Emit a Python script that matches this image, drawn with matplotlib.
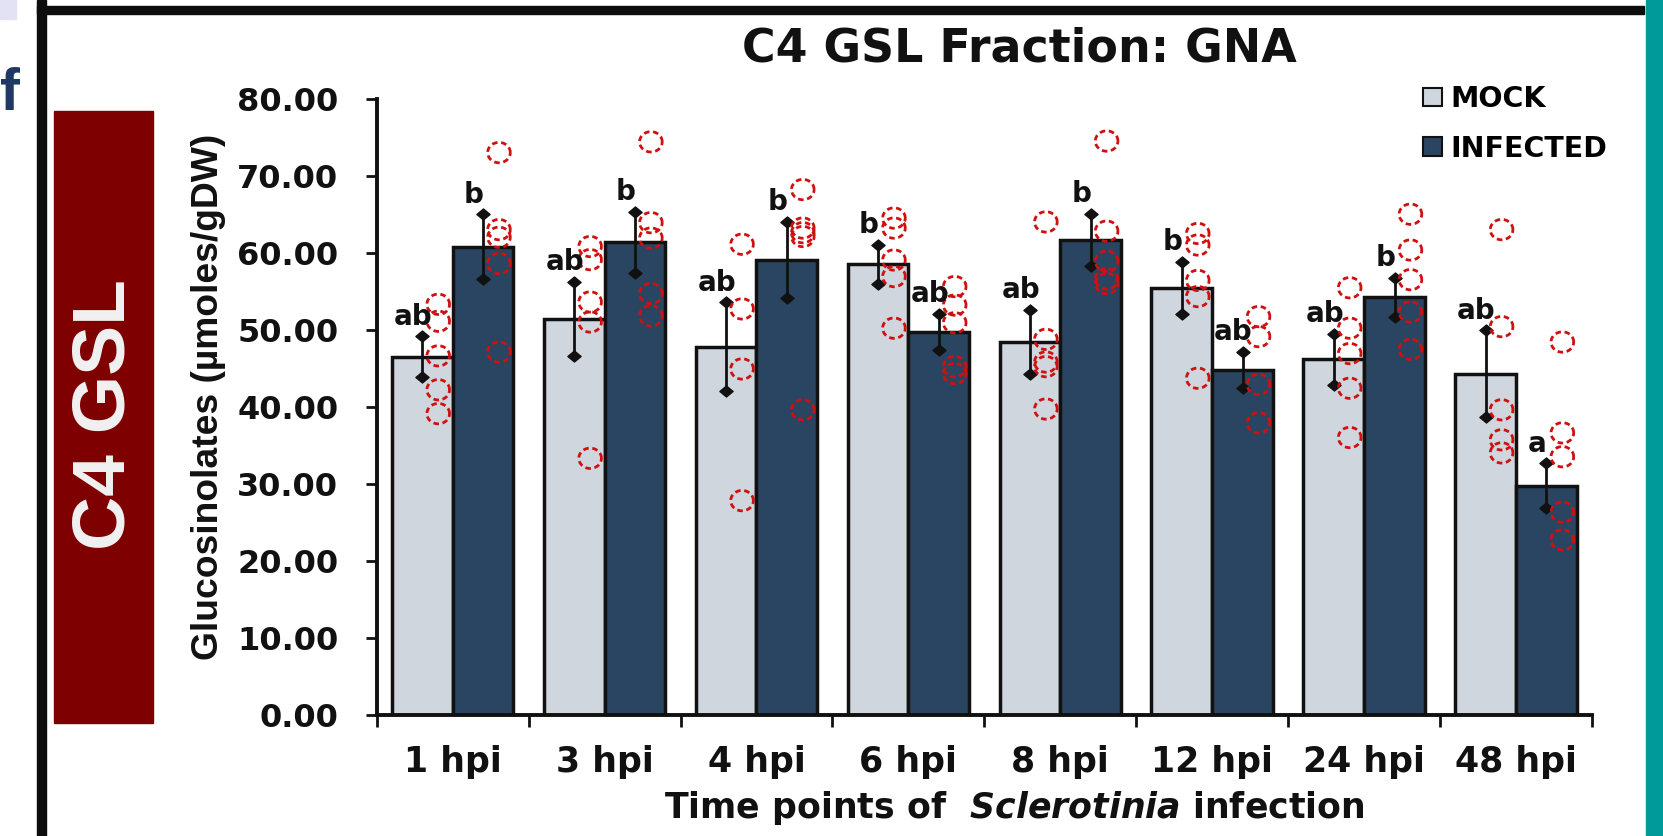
import numpy as np
import matplotlib
matplotlib.use("Agg")
import matplotlib.pyplot as plt
from matplotlib.path import Path
from matplotlib.patches import Patch, Rectangle

# ---------------- data ----------------
timepoints = ['1 hpi', '3 hpi', '4 hpi', '6 hpi', '8 hpi', '12 hpi', '24 hpi', '48 hpi']
mock_mean = [46.5, 51.4, 47.8, 58.5, 48.4, 55.45, 46.15, 44.3]
mock_sd = [2.65, 4.85, 5.75, 2.5, 4.2, 3.35, 3.35, 5.6]
inf_mean = [60.8, 61.35, 59.05, 49.7, 61.65, 44.8, 54.2, 29.75]
inf_sd = [4.2, 3.95, 4.95, 2.35, 3.4, 2.35, 2.55, 2.9]
mock_letters = ['ab', 'ab', 'ab', 'b', 'ab', 'b', 'ab', 'ab']
inf_letters = ['b', 'b', 'b', 'ab', 'b', 'ab', 'b', 'a']
mock_points = [
    [53.3, 51.1, 46.6, 42.2, 39.1],
    [60.8, 59.1, 53.6, 51.0, 33.3],
    [61.1, 52.7, 44.9, 27.8],
    [64.5, 63.2, 59.05, 56.9, 50.2],
    [64.0, 48.75, 45.8, 45.2, 39.7],
    [62.5, 61.0, 56.4, 54.3, 43.7],
    [55.45, 50.2, 46.9, 42.4, 36.0],
    [63.0, 50.4, 39.6, 35.7, 34.0],
]
inf_points = [
    [73.0, 63.0, 62.0, 58.6, 47.1],
    [74.4, 63.9, 61.9, 54.7, 51.8],
    [68.2, 63.2, 62.6, 62.1, 39.6],
    [55.6, 53.2, 50.9, 45.2, 44.3],
    [74.5, 62.8, 58.9, 56.6, 56.0],
    [51.7, 49.1, 42.9, 37.9],
    [65.0, 60.35, 56.5, 52.3, 47.45],
    [48.4, 36.6, 33.5, 26.3, 22.7],
]
yticks = [0, 10, 20, 30, 40, 50, 60, 70, 80]

# ---------------- style ----------------
MOCK_C = '#cfd6dd'
INF_C = '#2a4561'
EDGE = '#111111'
RED = '#d01010'
W, H = 1663, 836
plt.rcParams['font.family'] = ['DejaVu Sans']
plt.rcParams['mathtext.fontset'] = 'custom'
plt.rcParams['mathtext.it'] = 'DejaVu Sans:italic:bold'
plt.rcParams['mathtext.rm'] = 'DejaVu Sans:bold'

fig = plt.figure(figsize=(W / 100, H / 100), dpi=100)

def fx(px):
    return px / W

def fy(py):
    return 1 - py / H

# decorations of the page
fig.patches.append(Rectangle((0, fy(19)), fx(16), 19 / H, transform=fig.transFigure,
                             color='#e2e2f4', zorder=0))
fig.patches.append(Rectangle((fx(37), 0), fx(9), 1, transform=fig.transFigure,
                             color='#0d0d0d', zorder=0))
fig.patches.append(Rectangle((fx(37), fy(14)), fx(1644 - 37), 8 / H, transform=fig.transFigure,
                             color='#0d0d0d', zorder=0))
fig.patches.append(Rectangle((fx(1646), 0), fx(W - 1646), 1, transform=fig.transFigure,
                             color='#009a9a', zorder=0))
fig.patches.append(Rectangle((fx(54), fy(723)), fx(99), 612 / H, transform=fig.transFigure,
                             color='#7f0000', zorder=0))
fig.text(fx(0), fy(110), 'f', fontsize=43, fontweight='bold', color='#1f3864',
         family='Liberation Sans', ha='left', va='baseline')
fig.text(fx(105), fy(415), 'C4 GSL', rotation=90, ha='center', va='center',
         color='#f2f2f2', fontsize=54, fontweight='bold', family='Liberation Sans')

ax = fig.add_axes([fx(376.7), fy(714.7), fx(1592 - 376.7), (714.7 - 98.7) / H])

n = len(timepoints)
centers = np.arange(n) + 0.5
bw = 0.4
mock_x = centers - bw / 2
inf_x = centers + bw / 2

ax.bar(mock_x, mock_mean, width=bw, color=MOCK_C, edgecolor=EDGE, linewidth=2.5, zorder=2)
ax.bar(inf_x, inf_mean, width=bw, color=INF_C, edgecolor=EDGE, linewidth=2.5, zorder=2)

diamond = Path([(-1.2, 0), (0, 1), (1.2, 0), (0, -1), (-1.2, 0)],
               [Path.MOVETO, Path.LINETO, Path.LINETO, Path.LINETO, Path.CLOSEPOLY])
for xs, m, s in ((mock_x, mock_mean, mock_sd), (inf_x, inf_mean, inf_sd)):
    _, caps, _ = ax.errorbar(xs, m, yerr=s, fmt='none', ecolor=EDGE, elinewidth=2.0,
                             capsize=4, zorder=3)
    for c in caps:
        c.set_marker(diamond)
        c.set_markersize(9.5)
        c.set_markerfacecolor(EDGE)
        c.set_markeredgecolor(EDGE)

theta = np.linspace(0, 2 * np.pi, 73)
ellipse = Path(np.column_stack([1.11 * np.cos(theta), np.sin(theta)]))
pt_off = 0.105
for xs, pts in ((mock_x, mock_points), (inf_x, inf_points)):
    for x0, vals in zip(xs, pts):
        ax.scatter([x0 + pt_off] * len(vals), vals, s=265, marker=ellipse,
                   facecolors='none', edgecolors=RED, linewidths=2.0,
                   linestyles=(0, (2.0, 1.3)), zorder=4, clip_on=False)

for xs, m, s, letters in ((mock_x, mock_mean, mock_sd, mock_letters),
                          (inf_x, inf_mean, inf_sd, inf_letters)):
    for x0, mm, ss, lab in zip(xs, m, s, letters):
        ax.text(x0 - 0.06, mm + ss + 1.5, lab, ha='center', va='baseline',
                fontsize=20, fontweight='bold', color=EDGE, zorder=5)

ax.set_xlim(0, n)
ax.set_ylim(0, 80)
ax.set_yticks(yticks)
ax.set_yticklabels(['%.2f' % v for v in yticks])
ax.set_xticks(np.arange(n + 1))
ax.set_xticklabels([])
ax.set_xticks(centers, minor=True)
ax.set_xticklabels(timepoints, minor=True)
for sp in ('top', 'right'):
    ax.spines[sp].set_visible(False)
for sp in ('left', 'bottom'):
    ax.spines[sp].set_linewidth(2.8)
    ax.spines[sp].set_color(EDGE)
ax.tick_params(axis='y', which='major', direction='out', length=8, width=2, color=EDGE,
               pad=19.7, labelsize=23)
ax.tick_params(axis='x', which='major', direction='out', length=8.6, width=2, color=EDGE)
ax.tick_params(axis='x', which='minor', length=0, pad=21.8, labelsize=25)
for lab in ax.get_yticklabels() + ax.get_xticklabels(minor=True):
    lab.set_fontweight('bold')
    lab.set_color(EDGE)

fig.text(fx(1019), fy(61.7), 'C4 GSL Fraction: GNA', ha='center', va='baseline',
         fontsize=33, fontweight='bold', color=EDGE)
fig.text(fx(1014), fy(818), 'Time points of  $\\mathit{Sclerotinia}$ infection',
         ha='center', va='baseline', fontsize=25, fontweight='bold', color=EDGE)
fig.text(fx(209), fy(397), 'Glucosinolates (\u00b5moles/gDW)', rotation=90,
         ha='center', va='center', fontsize=26.8, fontweight='bold',
         family='Liberation Sans', color=EDGE)

handles = [Patch(facecolor=MOCK_C, edgecolor=EDGE, linewidth=1.5, label='MOCK'),
           Patch(facecolor=INF_C, edgecolor=EDGE, linewidth=1.5, label='INFECTED')]
ax.legend(handles=handles, loc='upper left', bbox_to_anchor=(fx(1423), fy(85)),
          bbox_transform=fig.transFigure, frameon=False, borderpad=0, borderaxespad=0,
          handlelength=0.68, handleheight=0.61, handletextpad=0.29, labelspacing=0.76,
          prop={'weight': 'bold', 'size': 20.5})

fig.savefig('out.png', dpi=100)
